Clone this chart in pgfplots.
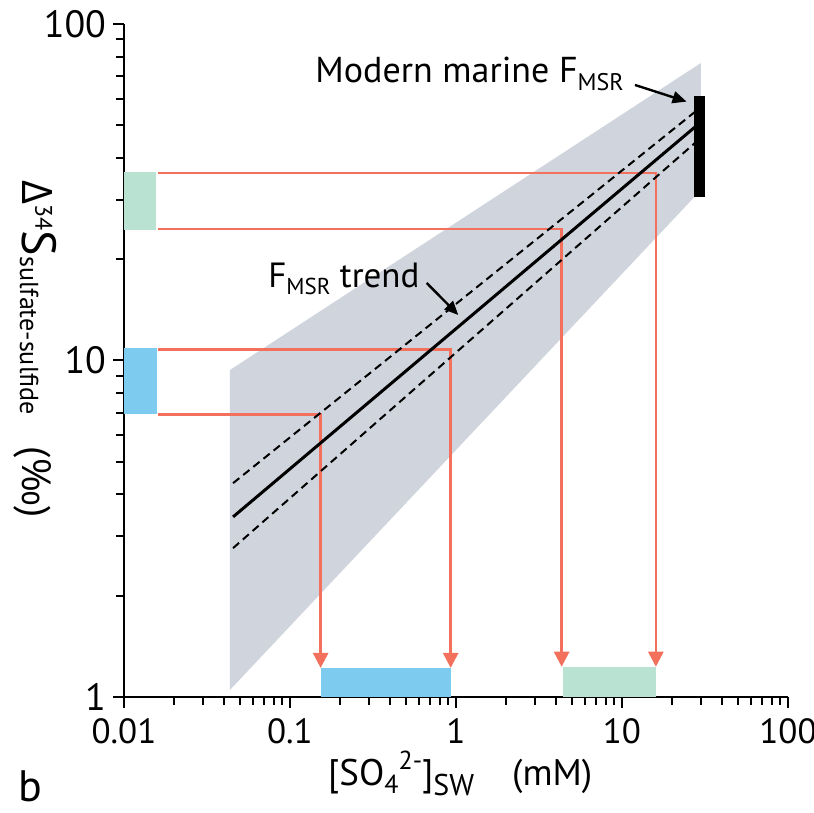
\documentclass[border=0pt]{standalone}
\usepackage{fontspec}
\setmainfont{PT Sans}
\newfontfamily\grk{Open Sans}
\usepackage{pgfplots}
\pgfplotsset{compat=1.18}
\usetikzlibrary{arrows.meta}
\definecolor{coral}{RGB}{242,112,92}
\definecolor{bandgray}{RGB}{208,212,221}
\definecolor{bblue}{RGB}{125,204,240}
\definecolor{bgreen}{RGB}{185,226,210}
\begin{document}
\begin{tikzpicture}
\begin{axis}[
  at={(0,0)}, anchor=south west,
  scale only axis, width=332pt, height=336.5pt,
  xmode=log, ymode=log,
  xmin=0.01, xmax=100, ymin=1, ymax=100,
  axis x line*=bottom, axis y line*=left,
  axis line style={line width=1pt},
  every tick/.style={black, line width=1pt},
  tick align=outside,
  major tick length=5.5pt, minor tick length=4pt,
  xtick={0.01,0.1,1,10,100}, xticklabels={0.01,0.1,1,10,100},
  ytick={1,10,100}, yticklabels={1,10,100},
  minor xtick={0.02,0.03,0.04,0.05,0.06,0.07,0.08,0.09,0.2,0.3,0.4,0.5,0.6,0.7,0.8,0.9,2,3,4,5,6,7,8,9,20,30,40,50,60,70,80,90},
  minor ytick={2,3,4,5,6,7,8,9,20,30,40,50,60,70,80,90},
  yticklabel style={font=\fontsize{19}{19}\selectfont},
  xticklabel style={font=\fontsize{17.5}{17.5}\selectfont, yshift=-2pt},
  clip=false,
]
% shaded band
\addplot[fill=bandgray, draw=none] coordinates {(0.0435,1.05) (29.9,32.1) (29.9,76.6) (0.0435,9.37)} -- cycle;
% red guides
\addplot[coral, line width=1.3pt, -{Triangle[width=7.5pt,length=7.5pt]}] coordinates {(0.016,36.1) (16.0,36.1) (16.0,1.23)};
\addplot[coral, line width=1.3pt, -{Triangle[width=7.5pt,length=7.5pt]}] coordinates {(0.016,24.6) (4.33,24.6) (4.33,1.23)};
\addplot[coral, line width=1.3pt, -{Triangle[width=7.5pt,length=7.5pt]}] coordinates {(0.016,10.8) (0.929,10.8) (0.929,1.22)};
\addplot[coral, line width=1.3pt, -{Triangle[width=7.5pt,length=7.5pt]}] coordinates {(0.016,6.92) (0.153,6.92) (0.153,1.22)};
% trend lines
\addplot[black, line width=1.5pt] coordinates {(0.0454,3.43) (27.5,49.4)};
\addplot[black, line width=1pt, dash pattern=on 4pt off 2.5pt] coordinates {(0.0454,4.32) (27.5,54.8)};
\addplot[black, line width=1pt, dash pattern=on 4pt off 2.5pt] coordinates {(0.0454,2.77) (27.5,44.3)};
% modern marine bar
\addplot[black, line width=5.3pt] coordinates {(29.4,30.6) (29.4,61.1)};
% range bars
\addplot[fill=bgreen, draw=none] coordinates {(0.01,24.5) (0.0156,24.5) (0.0156,36.4) (0.01,36.4)} -- cycle;
\addplot[fill=bblue, draw=none] coordinates {(0.01,6.94) (0.0157,6.94) (0.0157,10.9) (0.01,10.9)} -- cycle;
\addplot[fill=bblue, draw=none] coordinates {(0.1527,1) (0.929,1) (0.929,1.219) (0.1527,1.219)} -- cycle;
\addplot[fill=bgreen, draw=none] coordinates {(4.39,1) (16.02,1) (16.02,1.23) (4.39,1.23)} -- cycle;
% annotation arrows
\addplot[black, line width=1.2pt, -{Triangle[width=6pt,length=7pt]}] coordinates {(11.97,65.9) (24.5,58.8)};
\addplot[black, line width=1.2pt, -{Triangle[width=6pt,length=7pt]}] coordinates {(0.666,17.0) (1.033,13.65)};
% texts
\node[anchor=base west, inner sep=0pt, font=\fontsize{18}{18}\selectfont] at (axis cs:0.1416,67.2) {Modern marine F\raisebox{-4pt}{\fontsize{12}{12}\selectfont MSR}};
\node[anchor=base west, inner sep=0pt, font=\fontsize{17.5}{17.5}\selectfont] at (axis cs:0.0737,16.5) {F\raisebox{-3.5pt}{\fontsize{11.5}{11.5}\selectfont MSR} trend};
\node[rotate=-90, anchor=base west, inner sep=0pt] at (axis description cs:-0.1521,0.768) {{\grk\fontsize{21}{21}\selectfont Δ}\raisebox{0.62em}{\fontsize{12}{12}\selectfont 34}{\fontsize{24}{24}\selectfont S}\raisebox{-1.5pt}{\fontsize{13}{13}\selectfont sulfate-sulfide}\hspace{16pt}{\fontsize{20}{20}\selectfont ({\grk ‰})}};
\node[anchor=base west, inner sep=0pt, font=\fontsize{18.5}{18.5}\selectfont] at (axis description cs:0.307,-0.1308) {[SO\raisebox{-4pt}{\fontsize{13}{13}\selectfont 4}\raisebox{8pt}{\fontsize{13}{13}\selectfont 2-}]\raisebox{-5pt}{\fontsize{15}{15}\selectfont SW}\hspace{19pt}(mM)};
\node[anchor=base west, inner sep=0pt, font=\fontsize{22}{22}\selectfont] at (axis description cs:-0.1596,-0.155) {b};
\end{axis}
\pgfresetboundingbox
\path (-62pt,-58pt) rectangle (345pt,348.5pt);
\end{tikzpicture}
\end{document}
